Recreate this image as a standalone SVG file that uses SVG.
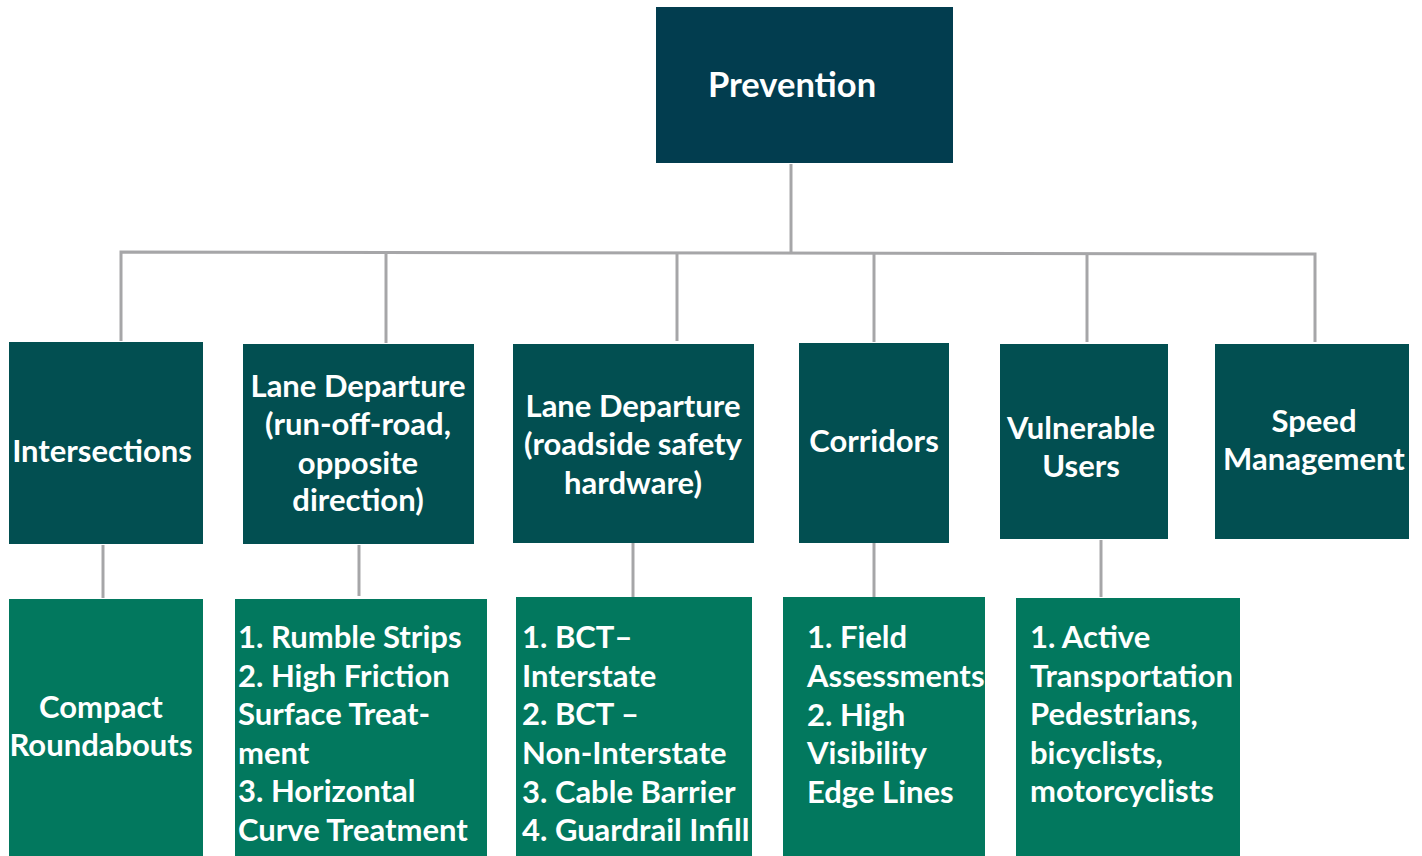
<svg xmlns="http://www.w3.org/2000/svg" width="1422" height="856" viewBox="0 0 1422 856">
<style>
.top{fill:#023D4F}
.mid{fill:#024F51}
.bot{fill:#02785E}
text{font-family:Lato,"Open Sans","Liberation Sans",sans-serif;font-weight:700;fill:#ffffff;font-size:31px}
.c{text-anchor:middle}
.ln{stroke:#A6A6A8;stroke-width:3;fill:none}
</style>
<rect width="1422" height="856" fill="#ffffff"/>
<g id="connectors">
<line class="ln" x1="791" y1="164" x2="791" y2="252"/>
<polyline class="ln" points="121,341 121,252 1315,254 1315,342"/>
<line class="ln" x1="386" y1="252" x2="386" y2="343"/>
<line class="ln" x1="677" y1="253" x2="677" y2="341"/>
<line class="ln" x1="874" y1="253" x2="874" y2="342"/>
<line class="ln" x1="1087" y1="253" x2="1087" y2="342"/>
<line class="ln" x1="103" y1="545" x2="103" y2="598"/>
<line class="ln" x1="359" y1="545" x2="359" y2="596"/>
<line class="ln" x1="633" y1="543" x2="633" y2="597"/>
<line class="ln" x1="874" y1="543" x2="874" y2="597"/>
<line class="ln" x1="1101" y1="540" x2="1101" y2="597"/>
</g>
<g id="prevention">
<rect class="top" x="656" y="7" width="297" height="156"/>
<text class="c" x="792" y="97" style="font-size:34.5px">Prevention</text>
</g>
<g id="intersections">
<rect class="mid" x="9" y="342" width="194" height="202"/>
<text class="c" x="102" y="462">Intersections</text>
</g>
<g id="lane-departure-1">
<rect class="mid" x="243" y="344" width="231" height="200"/>
<text class="c" x="358" y="397">Lane Departure</text>
<text class="c" x="358" y="435">(run-off-road,</text>
<text class="c" x="358" y="474">opposite</text>
<text class="c" x="358" y="511">direction)</text>
</g>
<g id="lane-departure-2">
<rect class="mid" x="513" y="344" width="241" height="199"/>
<text class="c" x="633" y="417">Lane Departure</text>
<text class="c" x="633" y="455">(roadside safety</text>
<text class="c" x="633" y="494">hardware)</text>
</g>
<g id="corridors">
<rect class="mid" x="799" y="343" width="150" height="200"/>
<text class="c" x="874" y="452">Corridors</text>
</g>
<g id="vulnerable-users">
<rect class="mid" x="1000" y="344" width="168" height="195"/>
<text class="c" x="1081" y="439">Vulnerable</text>
<text class="c" x="1081" y="477">Users</text>
</g>
<g id="speed-management">
<rect class="mid" x="1215" y="344" width="194" height="195"/>
<text class="c" x="1314" y="432">Speed</text>
<text class="c" x="1314" y="470">Management</text>
</g>
<g id="compact-roundabouts">
<rect class="bot" x="9" y="599" width="194" height="257"/>
<text class="c" x="101" y="718">Compact</text>
<text class="c" x="101" y="756">Roundabouts</text>
</g>
<g id="lane-departure-1-items">
<rect class="bot" x="235" y="599" width="252" height="257"/>
<text x="238" y="648">1. Rumble Strips</text>
<text x="238" y="687">2. High Friction</text>
<text x="238" y="725">Surface Treat-</text>
<text x="238" y="764">ment</text>
<text x="238" y="802">3. Horizontal</text>
<text x="238" y="841">Curve Treatment</text>
</g>
<g id="lane-departure-2-items">
<rect class="bot" x="516" y="597" width="236" height="259"/>
<text x="522" y="648">1. BCT–</text>
<text x="522" y="687">Interstate</text>
<text x="522" y="725">2. BCT –</text>
<text x="522" y="764">Non-Interstate</text>
<text x="522" y="803">3. Cable Barrier</text>
<text x="522" y="841">4. Guardrail Infill</text>
</g>
<g id="corridors-items">
<rect class="bot" x="783" y="597" width="202" height="259"/>
<text x="807" y="648">1. Field</text>
<text x="807" y="687">Assessments</text>
<text x="807" y="726">2. High</text>
<text x="807" y="764">Visibility</text>
<text x="807" y="803">Edge Lines</text>
</g>
<g id="vulnerable-users-items">
<rect class="bot" x="1016" y="598" width="224" height="258"/>
<text x="1030" y="648">1. Active</text>
<text x="1030" y="687">Transportation</text>
<text x="1030" y="725">Pedestrians,</text>
<text x="1030" y="764">bicyclists,</text>
<text x="1030" y="802">motorcyclists</text>
</g>
</svg>
